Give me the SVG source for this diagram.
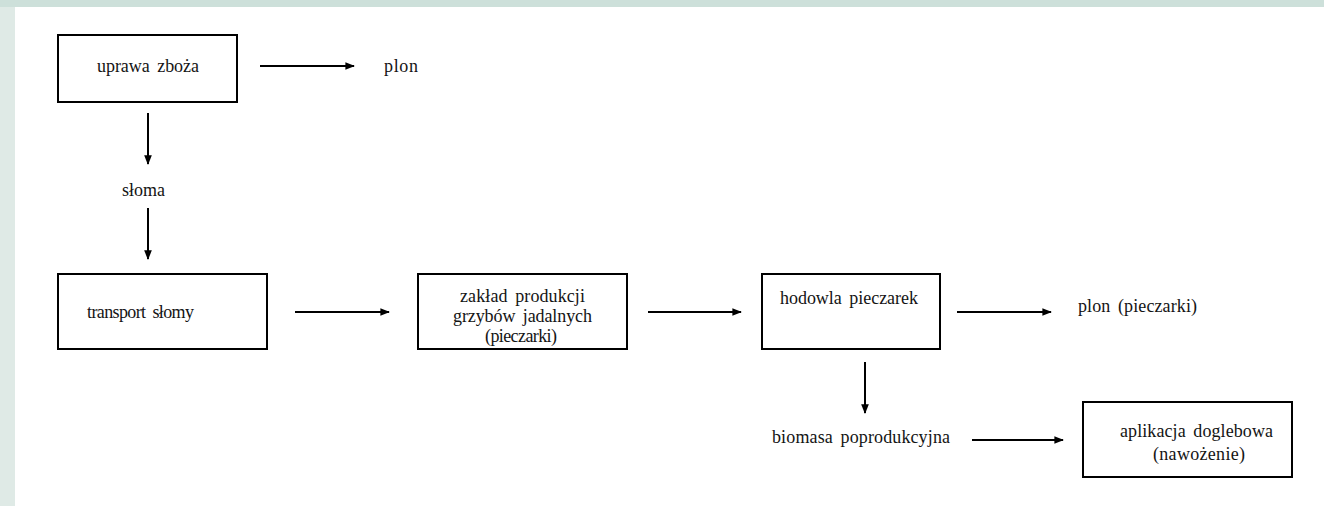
<svg xmlns="http://www.w3.org/2000/svg" width="1324" height="506" viewBox="0 0 1324 506">
<style>
.box{fill:#fff;stroke:#000;stroke-width:2}
.t{font-family:"Liberation Serif","Times New Roman","DejaVu Serif",serif;font-size:18px;fill:#141414;word-spacing:3px}
.c{stroke:#000;stroke-width:2;fill:none;marker-end:url(#ah)}
</style>
<defs>
<marker id="ah" viewBox="0 0 10 10" refX="9" refY="5" markerWidth="4.8" markerHeight="4.8" orient="auto" markerUnits="strokeWidth">
<path d="M0,1 L10,5 L0,9 z" fill="#000"/>
</marker>
</defs>
<rect x="0" y="0" width="1324" height="506" fill="#dfeae6"/>
<rect x="0" y="0" width="1324" height="7" fill="#cde0da"/>
<rect x="15" y="7" width="1309" height="499" fill="#fff"/>
<g id="connectors">
<line class="c" x1="260" y1="66" x2="354" y2="66"/>
<line class="c" x1="148" y1="113" x2="148" y2="164"/>
<line class="c" x1="148" y1="208" x2="148" y2="259"/>
<line class="c" x1="295" y1="312" x2="389" y2="312"/>
<line class="c" x1="648" y1="312" x2="741" y2="312"/>
<line class="c" x1="957" y1="312" x2="1051" y2="312"/>
<line class="c" x1="865" y1="362" x2="865" y2="413"/>
<line class="c" x1="972" y1="440" x2="1063" y2="440"/>
</g>
<g id="uprawa"><rect class="box" x="58" y="35" width="179" height="67"/><text class="t" x="97" y="72" textLength="102" lengthAdjust="spacing">uprawa zboża</text></g>
<g id="plon1"><text class="t" x="384" y="72" textLength="34" lengthAdjust="spacing">plon</text></g>
<g id="sloma"><text class="t" x="122" y="196" textLength="43" lengthAdjust="spacing">słoma</text></g>
<g id="transport"><rect class="box" x="58" y="274" width="209" height="75"/><text class="t" x="87" y="318" textLength="107" lengthAdjust="spacing">transport słomy</text></g>
<g id="zaklad"><rect class="box" x="418" y="274" width="209" height="75"/>
<text class="t" x="460" y="302" textLength="125" lengthAdjust="spacing">zakład produkcji</text>
<text class="t" x="453" y="322" textLength="139" lengthAdjust="spacing">grzybów jadalnych</text>
<text class="t" x="485" y="342" textLength="72" lengthAdjust="spacing">(pieczarki)</text></g>
<g id="hodowla"><rect class="box" x="762" y="274" width="178" height="75"/><text class="t" x="780" y="304" textLength="138" lengthAdjust="spacing">hodowla pieczarek</text></g>
<g id="plon2"><text class="t" x="1078" y="312" textLength="119" lengthAdjust="spacing">plon (pieczarki)</text></g>
<g id="biomasa"><text class="t" x="772" y="443" textLength="178" lengthAdjust="spacing">biomasa poprodukcyjna</text></g>
<g id="aplikacja"><rect class="box" x="1083" y="402" width="209" height="75"/>
<text class="t" x="1120" y="437" textLength="153" lengthAdjust="spacing">aplikacja doglebowa</text>
<text class="t" x="1153" y="460" textLength="92" lengthAdjust="spacing">(nawożenie)</text></g>
</svg>
